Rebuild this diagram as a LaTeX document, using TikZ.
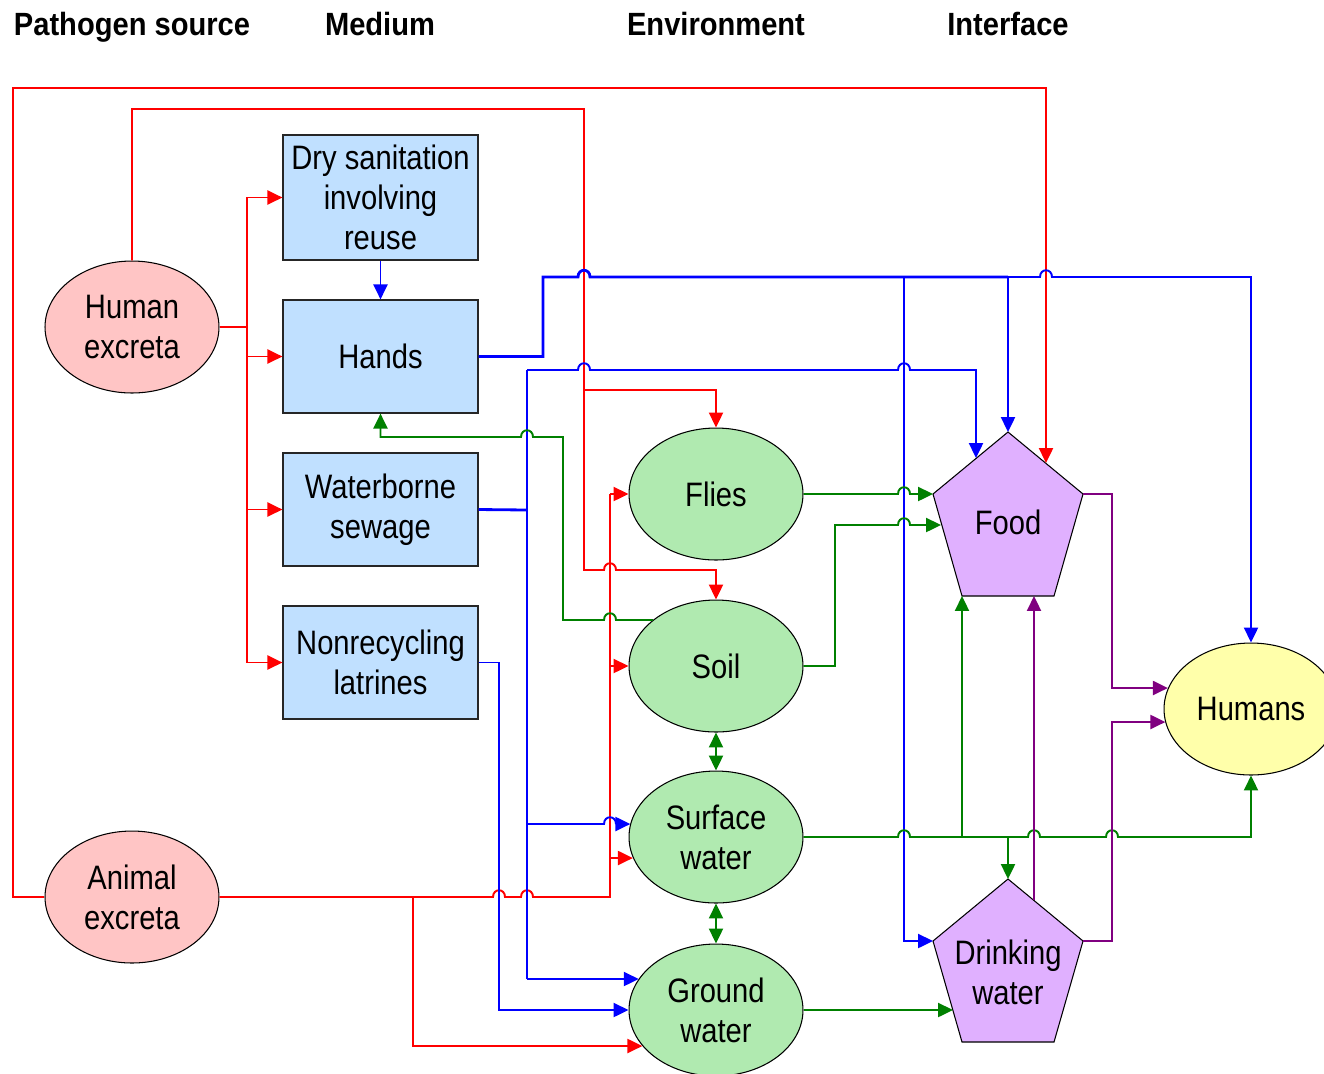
\documentclass[tikz,border=0pt]{standalone}
\usepackage{fontspec}
\setmainfont{Liberation Sans}[FakeStretch=0.86]
\newfontfamily\headfont{Liberation Sans}[FakeStretch=0.905]
\usepackage{xcolor}
\usepackage{tikz}
\usetikzlibrary{arrows.meta, shapes.geometric}

\definecolor{srcfill}{RGB}{255,197,197}
\definecolor{medfill}{RGB}{192,224,255}
\definecolor{envfill}{RGB}{176,234,176}
\definecolor{ifcfill}{RGB}{224,176,255}
\definecolor{humfill}{RGB}{255,255,170}
\definecolor{lred}{RGB}{255,0,0}
\definecolor{lblue}{RGB}{0,0,255}
\definecolor{lgreen}{RGB}{0,128,0}
\definecolor{lpurple}{RGB}{128,0,128}

% line hops over a crossing line (going right / going left)
\newcommand{\hopR}[2]{-- ({#1-6},#2) .. controls ({#1-6},{#2-9}) and ({#1+6},{#2-9}) .. ({#1+6},#2)}
\newcommand{\hopL}[2]{-- ({#1+6},#2) .. controls ({#1+6},{#2-9}) and ({#1-6},{#2-9}) .. ({#1-6},#2)}

\begin{document}
\begin{tikzpicture}[>={Triangle[length=8.5pt,width=8pt]}, x=0.02cm, y=-0.02cm,
    every node/.style={font=\fontsize{19.3}{22.8}\selectfont},
    head/.style={font=\headfont\fontsize{18.3}{22}\selectfont\bfseries, anchor=base},
    srcnode/.style={ellipse, draw, line width=0.6pt, fill=srcfill, minimum width=3.48cm, minimum height=2.64cm, align=center, inner sep=1pt},
    envnode/.style={srcnode, fill=envfill},
    humnode/.style={srcnode, fill=humfill},
    mednode/.style={rectangle, draw=black!85, line width=0.7pt, fill=medfill, minimum width=3.9cm, minimum height=2.26cm, align=center, inner sep=2pt},
    iface/.style={draw, line width=0.6pt, fill=ifcfill},
    redline/.style={draw=lred, line width=1.1pt},
    blueline/.style={draw=lblue, line width=1.1pt},
    bluewide/.style={draw=lblue, line width=1.6pt},
    greenline/.style={draw=lgreen, line width=1.1pt},
    purpleline/.style={draw=lpurple, line width=1.1pt}]
    \useasboundingbox (0,0) rectangle (1324,1073);
    % Column titles
    \node[head] (tsrc) at (132,35) {Pathogen source};
    \node[head] (tmed) at (380,35) {Medium};
    \node[head] (tenv) at (716,35) {Environment};
    \node[head] (tifc) at (1008,35) {Interface};
    % Sources
    \node[srcnode] (hum) at (132,327) {Human\\excreta};
    \node[srcnode] (ani) at (132,897) {Animal\\excreta};
    % Media
    \node[mednode, minimum height=2.5cm] (dry) at (380.5,197.5) {Dry sanitation\\involving\\reuse};
    \node[mednode] (hands) at (380.5,356.5) {Hands};
    \node[mednode] (sew) at (380.5,509.5) {Waterborne\\sewage};
    \node[mednode] (latr) at (380.5,662.5) {Nonrecycling\\latrines};
    % Environment
    \node[envnode] (flies) at (716,494) {Flies};
    \node[envnode] (soil) at (716,666) {Soil};
    \node[envnode] (surf) at (716,837) {Surface\\water};
    \node[envnode] (gw) at (716,1010) {Ground\\water};
    % Interface
    \coordinate (foodT) at (1008,432);
    \coordinate (foodNE) at (1083,494);
    \coordinate (foodSE) at (1054,596);
    \coordinate (foodSW) at (962,596);
    \coordinate (foodNW) at (933,494);
    \filldraw[iface] (foodT) -- (foodNE) -- (foodSE) -- (foodSW) -- (foodNW) -- cycle;
    \node[align=center] (food) at (1008,522) {Food};
    \coordinate (dwT) at (1008,879);
    \coordinate (dwNE) at (1083,941);
    \coordinate (dwSE) at (1054,1042);
    \coordinate (dwSW) at (962,1042);
    \coordinate (dwNW) at (933,941);
    \filldraw[iface] (dwT) -- (dwNE) -- (dwSE) -- (dwSW) -- (dwNW) -- cycle;
    \node[align=center] (dw) at (1008,972) {Drinking\\water};
    \node[humnode] (humans) at (1251,709) {Humans};

    % Red: from excreta
    \draw[redline] (hum.east) -- (247,327);
    \draw[redline,->] (247,327) |- (dry.west);
    \draw[redline,->] (247,327) |- (hands.west);
    \draw[redline,->] (247,327) |- (sew.west);
    \draw[redline,->] (247,327) |- (latr.west);
    \draw[redline,->] (hum.north) |- (584,109) -- (584,570) \hopR{610}{570} -| (soil.north);
    \draw[redline,->] (584,390) -| (flies.north);
    \draw[redline,->] (ani.west) -| (13,88) -| (1046,463);
    \draw[redline] (ani.east) \hopR{499}{897} \hopR{527}{897} -| (610,494);
    \draw[redline,->] (610,494) -- (flies.west);
    \draw[redline,->] (610,666) -- (soil.west);
    \draw[redline,->] (610,858) -- (surf.194 |- 0,858);
    \draw[redline,->] (413,897) |- (gw.206 |- 0,1046);

    % Blue: from media
    \draw[blueline,->] (dry.south) -- (hands.north);
    \draw[bluewide] (hands.east) -| (543,277) \hopR{584}{277} -- (1008,277);
    \draw[blueline,->] (1008,277) \hopR{1046}{277} -| (humans.north);
    \draw[blueline,->] (1008,277) -- (foodT);
    \draw[blueline,->] (904,277) |- (dwNW);
    \draw[bluewide] (sew.east) -- (527,510);
    \draw[bluewide] (527,370) -- (527,979);
    \draw[blueline,->] (527,370) \hopR{584}{370} \hopR{904}{370} -| (976,458);
    \draw[blueline,->] (527,824) \hopR{610}{824} -- (surf.171 |- 0,824);
    \draw[blueline,->] (527,979) -- (gw.158 |- 0,979);
    \draw[blueline,->] (latr.east) -| (499,1010) -- (gw.west);

    % Green: environment
    \draw[greenline,->] (flies.east) \hopR{904}{494} -- (foodNW);
    \draw[greenline,->] (soil.east) -| (835,525) \hopR{904}{525} -- (941,525);
    \draw[greenline,->] (soil.144 |- 0,620) \hopL{610}{620} -| (563,437) \hopL{527}{437} -| (hands.south);
    \draw[greenline,<->] (soil.south) -- (surf.north);
    \draw[greenline,<->] (surf.south) -- (gw.north);
    \draw[greenline,->] (surf.east) \hopR{904}{837} \hopR{1034}{837} \hopR{1112}{837} -| (humans.south);
    \draw[greenline,->] (962,837) -- (foodSW);
    \draw[greenline,->] (1008,837) -- (dwT);
    \draw[greenline,->] (gw.east) -- (953,1010);

    % Purple: interface to humans
    \draw[purpleline,->] (foodNE) -- (1112,494) |- (humans.166 |- 0,688);
    \draw[purpleline,->] (dwNE) -- (1112,941) |- (humans.189 |- 0,722);
    \draw[purpleline,->] (1034,900) -- (1034,596);
\end{tikzpicture}
\end{document}
